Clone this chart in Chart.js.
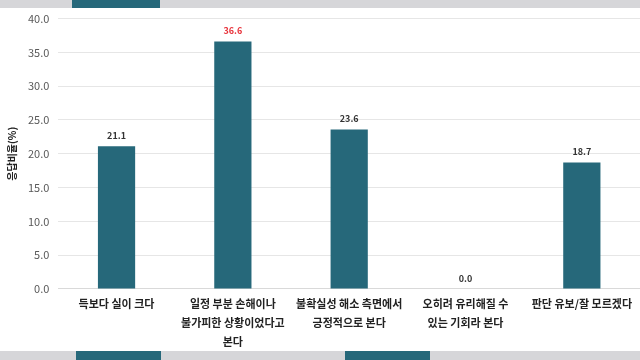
<!DOCTYPE html>
<html>
<head>
<meta charset="utf-8">
<script src="https://cdn.jsdelivr.net/npm/chart.js@4.4.0/dist/chart.umd.min.js"></script>
<style>
    html, body { margin: 0; padding: 0; }
    body { width: 640px; height: 360px; background: #d6d6d9; position: relative; overflow: hidden; }
    #panel { position: absolute; left: 0; top: 8px; width: 640px; height: 343px; background: #ffffff; overflow: hidden; }
    #chart { position: absolute; left: 0; top: -5px; }
    .frag { position: absolute; background: #26687a; }
</style>
</head>
<body>
<div class="frag" style="left:72px; top:0; width:88px; height:8px;"></div>
<div class="frag" style="left:76px; top:351px; width:85px; height:9px;"></div>
<div class="frag" style="left:345px; top:351px; width:85px; height:9px;"></div>
<div id="panel"><canvas id="chart" width="640" height="348"></canvas></div>
<script>
const categories = [
    ["득보다 실이 크다"],
    ["일정 부분 손해이나", "불가피한 상황이었다고", "본다"],
    ["불확실성 해소 측면에서", "긍정적으로 본다"],
    ["오히려 유리해질 수", "있는 기회라 본다"],
    ["판단 유보/잘 모르겠다"],
];
const values = [21.1, 36.6, 23.6, 0.0, 18.7];
const labelColors = ["#333333", "#e8343c", "#333333", "#333333", "#333333"];
const yTicks = [0, 5, 10, 15, 20, 25, 30, 35, 40];

const fontFamily = "'Noto Sans CJK KR', 'Noto Sans', sans-serif";

const valueLabels = {
    id: "valueLabels",
    afterDatasetsDraw(chart) {
        const ctx = chart.ctx;
        const meta = chart.getDatasetMeta(0);
        ctx.save();
        ctx.font = "bold 9px " + fontFamily;
        ctx.textAlign = "center";
        ctx.textBaseline = "bottom";
        meta.data.forEach((bar, i) => {
            ctx.fillStyle = labelColors[i];
            ctx.fillText(values[i].toFixed(1), bar.x, bar.y - 6);
        });
        ctx.restore();
    },
};

const config = {
    type: "bar",
    data: {
        labels: categories,
        datasets: [
            {
                data: values,
                backgroundColor: "#26687a",
                borderWidth: 0,
                categoryPercentage: 1.0,
                barPercentage: 0.32,
            },
        ],
    },
    options: {
        responsive: false,
        animation: false,
        layout: { padding: { top: -4, right: -4, left: 6, bottom: 2 } },
        plugins: {
            legend: { display: false },
            tooltip: { enabled: false },
        },
        scales: {
            x: {
                grid: { display: false },
                border: { color: "#d9d9d9" },
                ticks: {
                    color: "#222222",
                    font: { family: fontFamily, size: 11, weight: "bold", lineHeight: 1.7 },
                    maxRotation: 0,
                    autoSkip: false,
                    padding: -2,
                },
            },
            y: {
                min: 0,
                max: 40,
                afterBuildTicks: (axis) => {
                    axis.ticks = yTicks.map((v) => ({ value: v }));
                },
                grid: { color: "#e6e6e6", drawTicks: false },
                border: { display: false },
                ticks: {
                    color: "#595959",
                    font: { family: fontFamily, size: 11 },
                    padding: 9,
                    callback: (v) => Number(v).toFixed(1),
                },
                title: {
                    display: true,
                    text: "응답비율(%)",
                    color: "#222222",
                    font: { family: fontFamily, size: 10, weight: "bold" },
                    padding: { top: 0, bottom: 1 },
                },
            },
        },
    },
    plugins: [valueLabels],
};

const myChart = new Chart(document.getElementById("chart"), config);
</script>
</body>
</html>
